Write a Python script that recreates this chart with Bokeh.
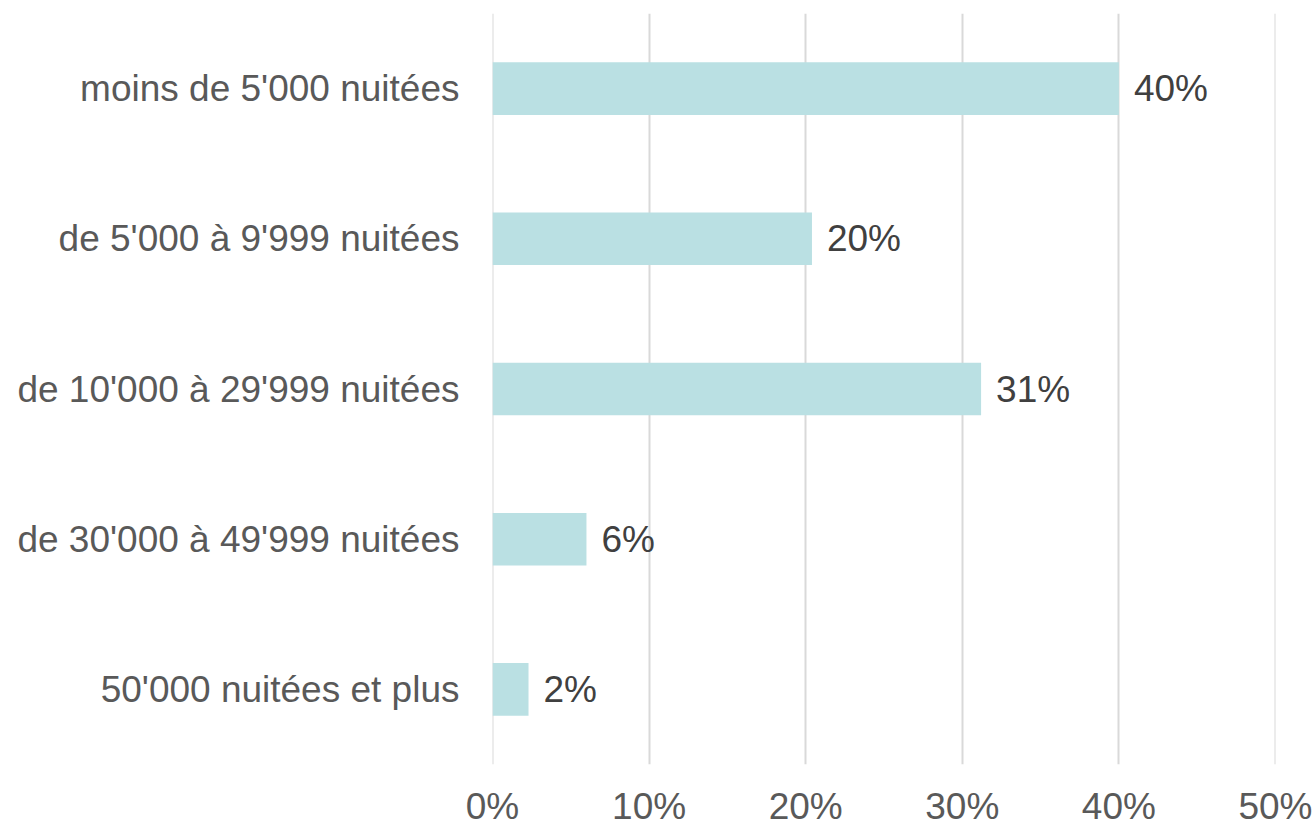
from bokeh.plotting import figure
from bokeh.models import ColumnDataSource, Range1d, FactorRange, LabelSet, FixedTicker, PrintfTickFormatter, Span
from bokeh.core.properties import value
from bokeh.embed import file_html
from bokeh.resources import INLINE

categories = ["moins de 5'000 nuitées", "de 5'000 à 9'999 nuitées", "de 10'000 à 29'999 nuitées",
              "de 30'000 à 49'999 nuitées", "50'000 nuitées et plus"]
values = [40.0, 20.4, 31.2, 6.0, 2.3]
x_ticks = [0, 10, 20, 30, 40, 50]

labels = [f"{round(v)}%" for v in values]
src = ColumnDataSource(dict(cat=categories, val=values, lab=labels))

FONT = "Liberation Sans"
GRID = "#D9D9D9"
p = figure(width=1316, height=825, frame_width=783, frame_height=751,
           y_range=FactorRange(*categories[::-1], range_padding=0),
           x_range=Range1d(x_ticks[0], x_ticks[-1]),
           output_backend="svg", toolbar_location=None,
           min_border_left=492, min_border_top=13, min_border_right=41, min_border_bottom=61)
p.outline_line_color = None
p.background_fill_color = "white"
p.border_fill_color = "white"

for t in (x_ticks[0], x_ticks[-1]):
    p.add_layout(Span(location=t, dimension="height", line_color=GRID, line_width=2, level="underlay"))

p.hbar(y="cat", right="val", left=0, height=0.35, source=src,
       fill_color="#BAE0E3", line_color=None)

p.add_layout(LabelSet(x="val", y="cat", text="lab", source=src, x_offset=15,
                      text_align="left", text_baseline="middle",
                      text_font=value(FONT), text_font_size="37px", text_color="#404040"))

p.xaxis.ticker = FixedTicker(ticks=x_ticks)
p.xaxis.formatter = PrintfTickFormatter(format="%d%%")
for ax in (p.xaxis, p.yaxis):
    ax.axis_line_color = None
    ax.major_tick_line_color = None
    ax.minor_tick_line_color = None
    ax.major_label_text_font = FONT
    ax.major_label_text_font_size = "37px"
    ax.major_label_text_color = "#595959"
p.xaxis.major_label_standoff = 15
p.yaxis.major_label_standoff = 27

p.xgrid.grid_line_color = GRID
p.xgrid.grid_line_width = 2
p.ygrid.grid_line_color = None

open("out.html", "w").write(file_html(p, INLINE))
